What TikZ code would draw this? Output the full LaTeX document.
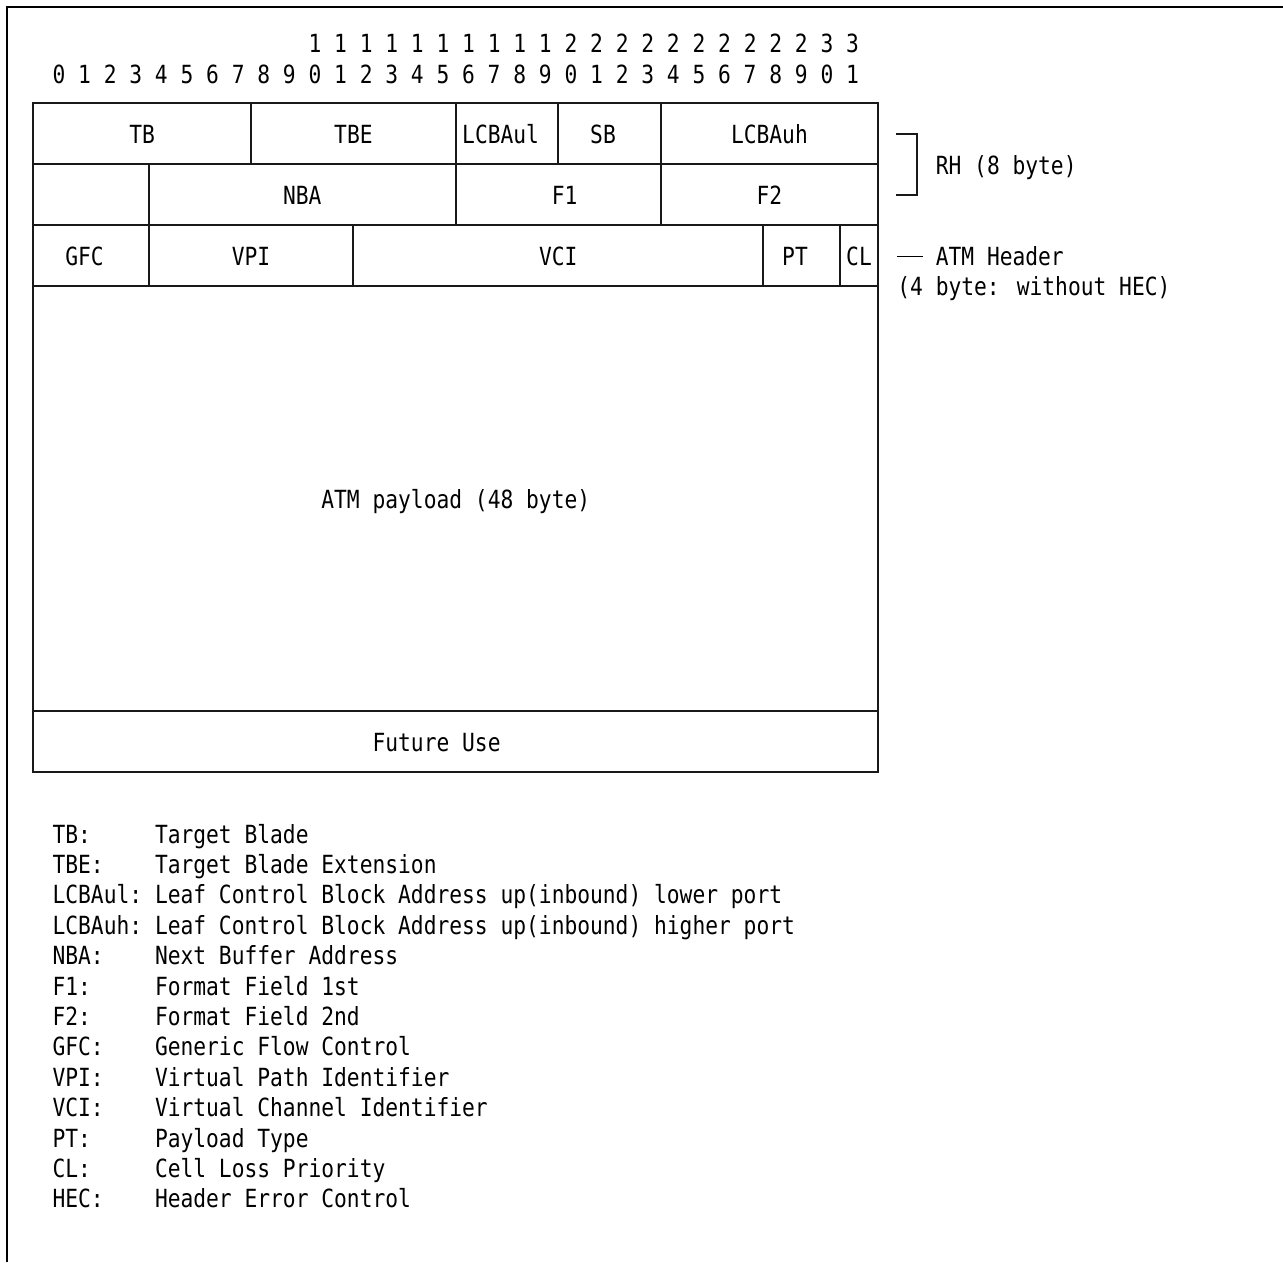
\documentclass[tikz,border=0pt]{standalone}
\usepackage{fontspec}
\newfontfamily\asc[FakeStretch=0.8504]{DejaVu Sans Mono}
\newcommand\gx[1]{33.4+12.8*#1}
\newcommand\gy[1]{42.5+30.4*#1}
\newcommand\tx[4]{\node[txt] (#1) at ({27+12.8*#2},{52.6+30.4*#3}) {#4};}
\begin{document}
\begin{tikzpicture}[x=1pt,y=-1pt,
  ln/.style={line width=2pt, line cap=rect, black!90},
  frm/.style={line width=2pt, black},
  txt/.style={anchor=base west, inner sep=0pt, outer sep=0pt, font=\fontsize{25}{30}\asc}]
\useasboundingbox (0,0) rectangle (1283,1262);
% outer frame (top and left)
\draw[frm] (1283,6.6) -- (6.6,6.6) -- (6.6,1262);
% bit numbering
\tx{tens}{22}{0}{1 1 1 1 1 1 1 1 1 1 2 2 2 2 2 2 2 2 2 2 3 3}
\tx{units}{2}{1}{0 1 2 3 4 5 6 7 8 9 0 1 2 3 4 5 6 7 8 9 0 1 2 3 4 5 6 7 8 9 0 1}
% horizontal rules of the table
\foreach \n in {2,4,6,8,22,24}
  \draw[ln] ({\gx{0}},{\gy{\n}}) -- ({\gx{66}},{\gy{\n}});
% outer verticals
\draw[ln] ({\gx{0}},{\gy{2}}) -- ({\gx{0}},{\gy{24}});
\draw[ln] ({\gx{66}},{\gy{2}}) -- ({\gx{66}},{\gy{24}});
% row 1 separators
\foreach \c in {17,33,41,49}
  \draw[ln] ({\gx{\c}},{\gy{2}}) -- ({\gx{\c}},{\gy{4}});
% row 2 separators
\foreach \c in {9,33,49}
  \draw[ln] ({\gx{\c}},{\gy{4}}) -- ({\gx{\c}},{\gy{6}});
% row 3 separators
\foreach \c in {9,25,57,63}
  \draw[ln] ({\gx{\c}},{\gy{6}}) -- ({\gx{\c}},{\gy{8}});
% field labels
\tx{tb}{8}{3}{TB}
\tx{tbe}{24}{3}{TBE}
\tx{lcbaul}{34}{3}{LCBAul}
\tx{sb}{44}{3}{SB}
\tx{lcbauh}{55}{3}{LCBAuh}
\tx{nba}{20}{5}{NBA}
\tx{fone}{41}{5}{F1}
\tx{ftwo}{57}{5}{F2}
\tx{gfc}{3}{7}{GFC}
\tx{vpi}{16}{7}{VPI}
\tx{vci}{40}{7}{VCI}
\tx{pt}{59}{7}{PT}
\tx{cl}{64}{7}{CL}
\tx{payload}{23}{15}{ATM payload (48 byte)}
\tx{future}{27}{23}{Future Use}
% right-hand annotations
\draw[ln] (897.4,134.4) -- (917.2,134.4) -- (917.2,194.6) -- (897.4,194.6);
\tx{rh}{71}{4}{RH (8 byte)}
\draw[line width=1.5pt] (897.4,256.3) -- (923,256.3);
\tx{atmh}{71}{7}{ATM Header}
\tx{atmh2}{68}{8}{(4 byte: without HEC)}
% legend
\tx{la}{2}{26}{TB:}      \tx{da}{10}{26}{Target Blade}
\tx{lb}{2}{27}{TBE:}     \tx{db}{10}{27}{Target Blade Extension}
\tx{lc}{2}{28}{LCBAul:}  \tx{dc}{10}{28}{Leaf Control Block Address up(inbound) lower port}
\tx{ld}{2}{29}{LCBAuh:}  \tx{dd}{10}{29}{Leaf Control Block Address up(inbound) higher port}
\tx{le}{2}{30}{NBA:}     \tx{de}{10}{30}{Next Buffer Address}
\tx{lf}{2}{31}{F1:}      \tx{df}{10}{31}{Format Field 1st}
\tx{lg}{2}{32}{F2:}      \tx{dg}{10}{32}{Format Field 2nd}
\tx{lh}{2}{33}{GFC:}     \tx{dh}{10}{33}{Generic Flow Control}
\tx{li}{2}{34}{VPI:}     \tx{di}{10}{34}{Virtual Path Identifier}
\tx{lj}{2}{35}{VCI:}     \tx{dj}{10}{35}{Virtual Channel Identifier}
\tx{lk}{2}{36}{PT:}      \tx{dk}{10}{36}{Payload Type}
\tx{ll}{2}{37}{CL:}      \tx{dl}{10}{37}{Cell Loss Priority}
\tx{lm}{2}{38}{HEC:}     \tx{dm}{10}{38}{Header Error Control}
\end{tikzpicture}
\end{document}
